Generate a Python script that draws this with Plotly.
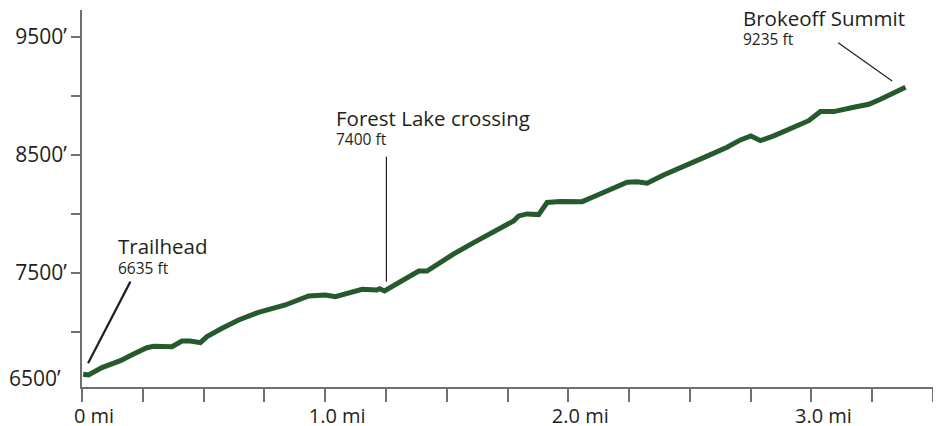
import plotly.graph_objects as go

# Trail profile (distance in miles, elevation in feet)
miles = [0.005, 0.027, 0.082, 0.158, 0.212, 0.267, 0.295, 0.370, 0.411, 0.445,
         0.487, 0.514, 0.576, 0.644, 0.726, 0.836, 0.932, 1.001, 1.042, 1.090,
         1.152, 1.213, 1.224, 1.244, 1.309, 1.385, 1.419, 1.529, 1.611, 1.693,
         1.775, 1.796, 1.831, 1.878, 1.913, 1.968, 2.057, 2.104, 2.173, 2.242,
         2.283, 2.324, 2.392, 2.475, 2.557, 2.653, 2.708, 2.751, 2.790, 2.845,
         2.914, 2.989, 3.037, 3.092, 3.174, 3.236, 3.284, 3.387]
elev = [6639, 6633, 6695, 6754, 6811, 6864, 6876, 6873, 6921, 6921,
        6907, 6958, 7029, 7099, 7164, 7226, 7303, 7311, 7297, 7325,
        7359, 7353, 7364, 7345, 7424, 7514, 7514, 7659, 7754, 7848,
        7938, 7981, 7998, 7992, 8095, 8103, 8102, 8144, 8209, 8266,
        8271, 8258, 8328, 8398, 8475, 8563, 8625, 8659, 8619, 8659,
        8724, 8788, 8865, 8865, 8902, 8927, 8970, 9071]

x_tickvals = [0, 0.25, 0.5, 0.75, 1.0, 1.25, 1.5, 1.75, 2.0, 2.25, 2.5, 2.75, 3.0, 3.25, 3.5]
x_ticktext = ["0 mi", "", "", "", "1.0 mi", "", "", "", "2.0 mi", "", "", "", "3.0 mi", "", ""]
y_tickvals = [7000, 7500, 8000, 8500, 9000, 9500]
y_ticktext = ["", "7500\u2019", "", "8500\u2019", "", "9500\u2019"]
base_label = "6500\u2019"

# Landmarks: name, elevation label, label position, leader line
landmarks = [
    dict(name="Trailhead", elev="6635 ft", lx=0.144, ly_name=7722, ly_elev=7537,
         line=(0.199, 7424, 0.025, 6732), lw=2.2),
    dict(name="Forest Lake crossing", elev="7400 ft", lx=1.042, ly_name=8811, ly_elev=8633,
         line=(1.252, 8483, 1.252, 7424), lw=1.2),
    dict(name="Brokeoff Summit", elev="9235 ft", lx=2.715, ly_name=9659, ly_elev=9478,
         line=(3.110, 9449, 3.332, 9125), lw=1.2),
]

FONT = "Open Sans"
TXT = "#231f20"
AX = "#707070"
GREEN = "#245a2c"

fig = go.Figure()
fig.add_trace(go.Scatter(x=miles, y=elev, mode="lines",
                         line=dict(color=GREEN, width=5, shape="linear"),
                         hoverinfo="skip", showlegend=False))

annotations = []
shapes = []
for lm in landmarks:
    annotations.append(dict(x=lm["lx"], y=lm["ly_name"], xref="x", yref="y", text=lm["name"],
                            showarrow=False, xanchor="left", yanchor="middle", borderpad=0,
                            font=dict(family=FONT, size=20.5, color=TXT)))
    annotations.append(dict(x=lm["lx"], y=lm["ly_elev"], xref="x", yref="y", text=lm["elev"],
                            showarrow=False, xanchor="left", yanchor="middle", borderpad=0,
                            font=dict(family=FONT, size=15.5, color=TXT)))
    x0, y0, x1, y1 = lm["line"]
    shapes.append(dict(type="line", xref="x", yref="y", x0=x0, y0=y0, x1=x1, y1=y1,
                       line=dict(color=TXT, width=lm["lw"])))

annotations.append(dict(x=0, y=0, xref="paper", yref="paper", text=base_label, showarrow=False,
                        xanchor="right", yanchor="middle", xshift=-19, yshift=9,
                        font=dict(family=FONT, size=21, color=TXT)))

# The page places the figure 8px from the window's top-left corner.
fig.update_layout(
    width=933, height=418, autosize=False,
    margin=dict(l=74, r=8, t=2, b=39),
    paper_bgcolor="white", plot_bgcolor="white",
    annotations=annotations, shapes=shapes,
    xaxis=dict(range=[0, 3.5], tickvals=x_tickvals, ticktext=x_ticktext, automargin=False,
               ticks="outside", ticklen=13, tickwidth=2, tickcolor=AX,
               showline=True, linecolor=AX, linewidth=2, showgrid=False, zeroline=False,
               ticklabelshift=12, ticklabelstandoff=-3,
               tickfont=dict(family=FONT, size=20, color=TXT)),
    yaxis=dict(range=[6531, 9726], tickvals=y_tickvals, ticktext=y_ticktext, automargin=False,
               ticks="outside", ticklen=9, tickwidth=2, tickcolor=AX,
               showline=True, linecolor=AX, linewidth=2, showgrid=False, zeroline=False,
               tickfont=dict(family=FONT, size=21, color=TXT)),
)

fig.write_html("out.html")
